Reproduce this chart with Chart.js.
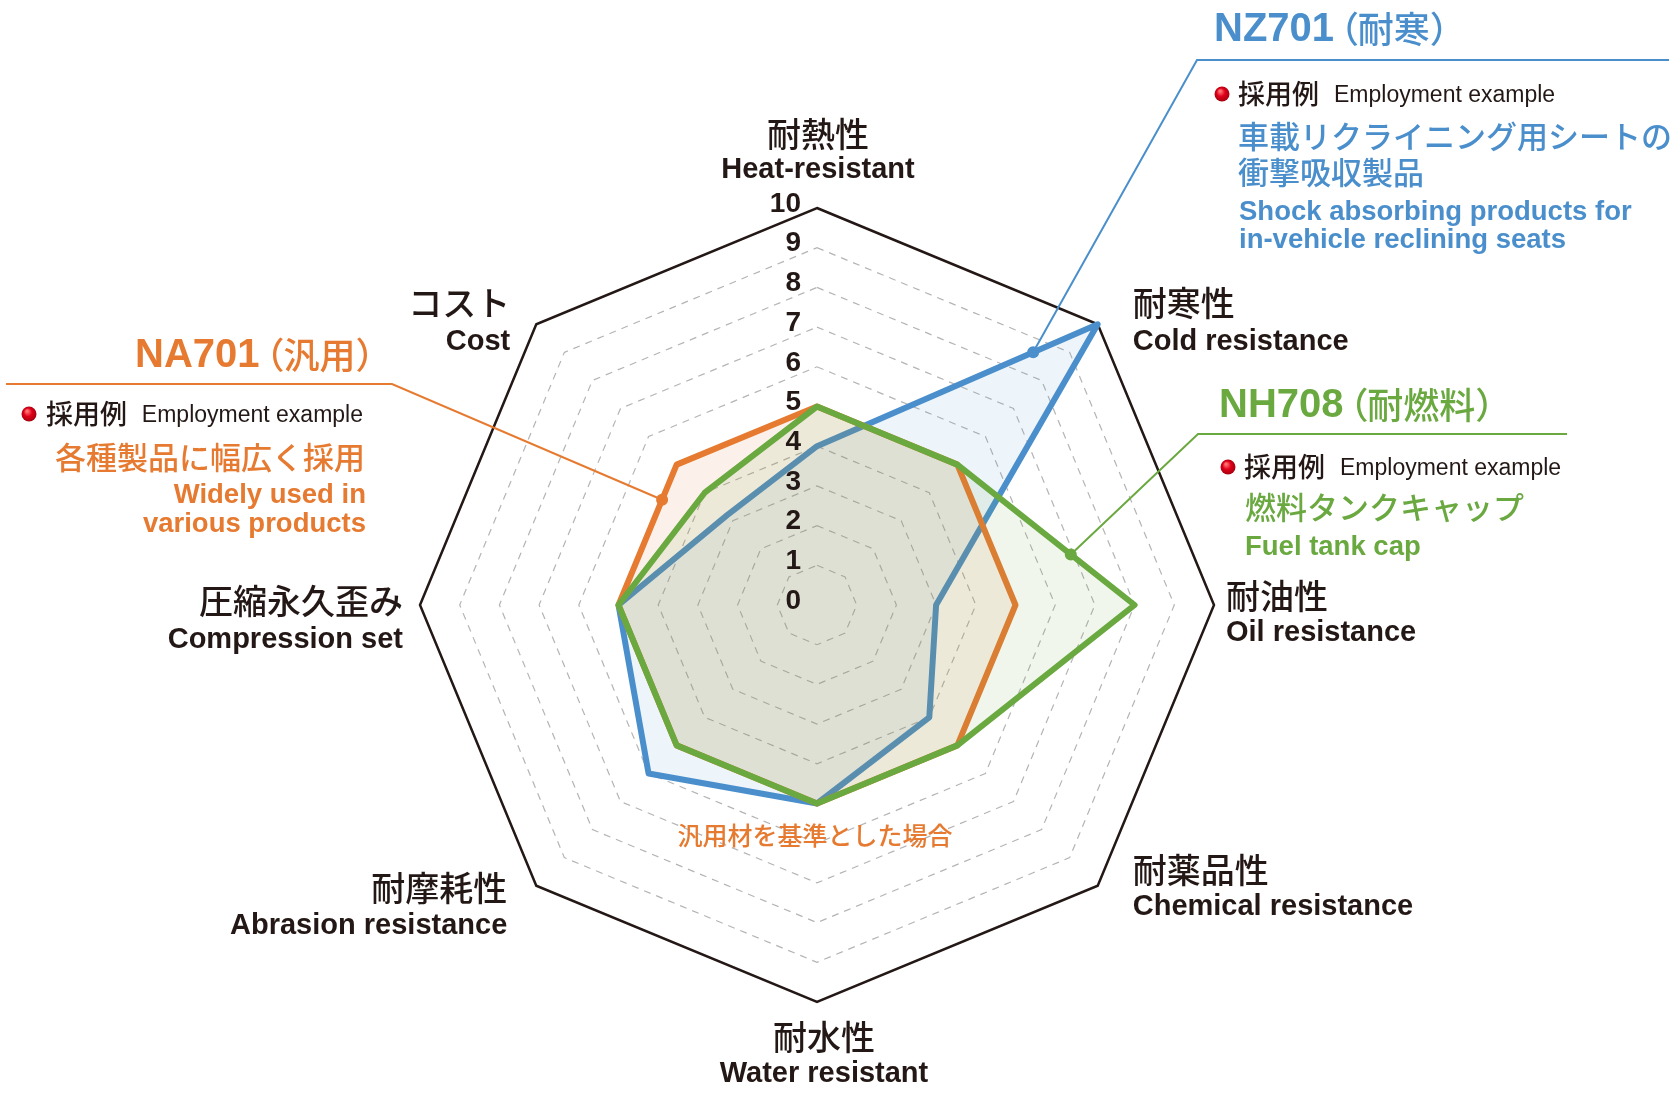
<!DOCTYPE html>
<html lang="ja">
<head>
<meta charset="UTF-8">
<title>Material radar</title>
<script src="https://cdn.jsdelivr.net/npm/chart.js"></script>
<style>
  html, body { margin: 0; padding: 0; background: #fff; }
  #wrap { width: 1680px; height: 1100px; }
</style>
</head>
<body>
<div id="wrap"><canvas id="radar" width="1680" height="1100"></canvas></div>
<script>
// axes (clockwise from top)
const axesJa = ['耐熱性', '耐寒性', '耐油性', '耐薬品性', '耐水性', '耐摩耗性', '圧縮永久歪み', 'コスト'];
const axesEn = ['Heat-resistant', 'Cold resistance', 'Oil resistance', 'Chemical resistance',
                'Water resistant', 'Abrasion resistance', 'Compression set', 'Cost'];
const tickValues = [0, 1, 2, 3, 4, 5, 6, 7, 8, 9, 10];

// series
const na701 = [5, 5, 5, 5, 5, 5, 5, 5];
const nz701 = [4, 10, 3, 4, 5, 6, 5, 3.2];
const nh708 = [5, 5, 8, 5, 5, 5, 5, 4];

const INK = '#231815';
const ORANGE = '#e67a30';
const BLUE = '#4a8fcc';
const GREEN = '#6aa840';
const JP = '"Noto Sans CJK JP", sans-serif';
const EN = '"Liberation Sans", Arial, sans-serif';

function txt(ctx, s, x, y, font, color, align) {
  ctx.font = font;
  ctx.fillStyle = color;
  ctx.textAlign = align || 'left';
  ctx.textBaseline = 'middle';
  ctx.fillText(s, x, y);
}

// title like "NZ701（耐寒）" with tight parentheses
const OPEN_ADV = 0.55, CLOSE_ADV = 0.6;
function titleWidth(ctx, code, jp) {
  ctx.font = 'bold 40px ' + EN;
  let w = ctx.measureText(code).width + 4;
  for (const c of jp) {
    if (c === '（') w += 36 * OPEN_ADV;
    else if (c === '）') w += 36 * CLOSE_ADV;
    else w += 36;
  }
  return w;
}
function drawTitle(ctx, code, jp, x, y, color, align) {
  if (align === 'right') x -= titleWidth(ctx, code, jp);
  txt(ctx, code, x, y, 'bold 40px ' + EN, color);
  x += ctx.measureText(code).width + 4;
  ctx.font = '500 36px ' + JP;
  for (const c of jp) {
    if (c === '（') { ctx.fillText(c, x - 36 * 0.42, y - 1); x += 36 * OPEN_ADV; }
    else if (c === '）') { ctx.fillText(c, x, y - 1); x += 36 * CLOSE_ADV; }
    else { ctx.fillText(c, x, y - 1); x += 36; }
  }
}

function bullet(ctx, x, y) {
  const g = ctx.createRadialGradient(x - 2, y - 3, 1, x, y, 8);
  g.addColorStop(0, '#ff7070');
  g.addColorStop(0.45, '#e0001a');
  g.addColorStop(1, '#a0000c');
  ctx.beginPath();
  ctx.arc(x, y, 7.5, 0, Math.PI * 2);
  ctx.fillStyle = g;
  ctx.fill();
}

function leader(ctx, pts, color) {
  ctx.save();
  ctx.strokeStyle = color;
  ctx.lineWidth = 2;
  ctx.beginPath();
  ctx.moveTo(pts[0][0], pts[0][1]);
  for (let i = 1; i < pts.length; i++) ctx.lineTo(pts[i][0], pts[i][1]);
  ctx.stroke();
  const e = pts[pts.length - 1];
  ctx.beginPath();
  ctx.arc(e[0], e[1], 6, 0, Math.PI * 2);
  ctx.fillStyle = color;
  ctx.fill();
  ctx.restore();
}

// point on a series' outline, between axis i and i+1
function onEdge(scale, data, i, t) {
  const j = (i + 1) % data.length;
  const a = scale.getPointPosition(i, scale.getDistanceFromCenterForValue(data[i]));
  const b = scale.getPointPosition(j, scale.getDistanceFromCenterForValue(data[j]));
  return [a.x + (b.x - a.x) * t, a.y + (b.y - a.y) * t];
}

// label placement relative to outer vertex: [dx, align, jpDy, enDy]
const labelPlace = [
  [1, 'center', -74, -38],
  [35, 'left', -21, 18],
  [12, 'left', -9, 28],
  [35, 'left', -16, 21],
  [7, 'center', 35, 72],
  [-29, 'right', 2, 40],
  [-17, 'right', -4, 35],
  [-26, 'right', -21, 18]
];

const overlay = {
  id: 'overlay',
  afterDatasetsDraw(chart) {
    const ctx = chart.ctx;
    const r = chart.scales.r;
    ctx.save();

    // tick labels
    tickValues.forEach(v => {
      const d = r.getDistanceFromCenterForValue(v);
      txt(ctx, String(v), r.xCenter - 16, r.yCenter - d - 4, 'bold 28px ' + EN, INK, 'right');
    });

    // axis labels
    axesJa.forEach((ja, i) => {
      const p = r.getPointPosition(i, r.drawingArea);
      const [dx, al, jy, ey] = labelPlace[i];
      txt(ctx, ja, p.x + dx, p.y + jy, '500 34px ' + JP, INK, al);
      txt(ctx, axesEn[i], p.x + dx, p.y + ey, 'bold 29px ' + EN, INK, al);
    });

    txt(ctx, '汎用材を基準とした場合', r.xCenter - 2, r.yCenter + 230, '500 25px ' + JP, ORANGE, 'center');

    // NZ701 block
    const bd = onEdge(r, nz701, 0, 0.77);
    leader(ctx, [[1669, 60], [1197, 60], bd], BLUE);
    drawTitle(ctx, 'NZ701', '（耐寒）', 1214, 30, BLUE);
    bullet(ctx, 1222, 94);
    txt(ctx, '採用例', 1238, 94, '500 27px ' + JP, INK);
    txt(ctx, 'Employment example', 1334, 96, '23px ' + EN, INK);
    txt(ctx, '車載リクライニング用シートの', 1238, 136, '500 31px ' + JP, BLUE);
    txt(ctx, '衝撃吸収製品', 1238, 172, '500 31px ' + JP, BLUE);
    txt(ctx, 'Shock absorbing products for', 1239, 212, 'bold 27.5px ' + EN, BLUE);
    txt(ctx, 'in-vehicle reclining seats', 1239, 240, 'bold 27.5px ' + EN, BLUE);

    // NA701 block
    const od = onEdge(r, na701, 6, 0.75);
    leader(ctx, [[6, 384], [392, 384], od], ORANGE);
    drawTitle(ctx, 'NA701', '（汎用）', 377, 356, ORANGE, 'right');
    bullet(ctx, 29, 414);
    txt(ctx, '採用例', 46, 414, '500 27px ' + JP, INK);
    txt(ctx, 'Employment example', 363, 416, '23px ' + EN, INK, 'right');
    txt(ctx, '各種製品に幅広く採用', 365, 457, '500 31px ' + JP, ORANGE, 'right');
    txt(ctx, 'Widely used in', 366, 495, 'bold 27.5px ' + EN, ORANGE, 'right');
    txt(ctx, 'various products', 366, 524, 'bold 27.5px ' + EN, ORANGE, 'right');

    // NH708 block
    const gd = onEdge(r, nh708, 1, 0.64);
    leader(ctx, [[1567, 434], [1198, 434], gd], GREEN);
    drawTitle(ctx, 'NH708', '（耐燃料）', 1219, 406, GREEN);
    bullet(ctx, 1228, 467);
    txt(ctx, '採用例', 1244, 467, '500 27px ' + JP, INK);
    txt(ctx, 'Employment example', 1340, 469, '23px ' + EN, INK);
    txt(ctx, '燃料タンクキャップ', 1245, 507, '500 31px ' + JP, GREEN);
    txt(ctx, 'Fuel tank cap', 1245, 547, 'bold 27.5px ' + EN, GREEN);

    ctx.restore();
  }
};

new Chart(document.getElementById('radar'), {
  type: 'radar',
  data: {
    labels: axesEn,
    datasets: [
      { label: 'NA701', data: na701, order: 2, borderColor: ORANGE, backgroundColor: 'rgba(230,122,48,0.10)' },
      { label: 'NZ701', data: nz701, order: 3, borderColor: BLUE, backgroundColor: 'rgba(74,143,204,0.10)' },
      { label: 'NH708', data: nh708, order: 1, borderColor: GREEN, backgroundColor: 'rgba(106,168,64,0.10)' }
    ]
  },
  options: {
    responsive: false,
    animation: false,
    layout: { padding: { left: 420, right: 465, top: 208, bottom: 97 } },
    elements: {
      line: { borderWidth: 6, tension: 0, fill: true, borderJoinStyle: 'round' },
      point: { radius: 0, hoverRadius: 0 }
    },
    scales: {
      r: {
        min: 0,
        max: 10,
        ticks: { display: false, stepSize: 1 },
        pointLabels: { display: false },
        angleLines: { display: false },
        grid: {
          color: c => c.index === 10 ? INK : '#b4b4b4',
          lineWidth: c => c.index === 10 ? 2.5 : 1.2
        },
        border: { dash: c => c.index === 10 ? [] : [7, 6] }
      }
    },
    plugins: { legend: { display: false }, tooltip: { enabled: false } }
  },
  plugins: [overlay]
});
</script>
</body>
</html>
